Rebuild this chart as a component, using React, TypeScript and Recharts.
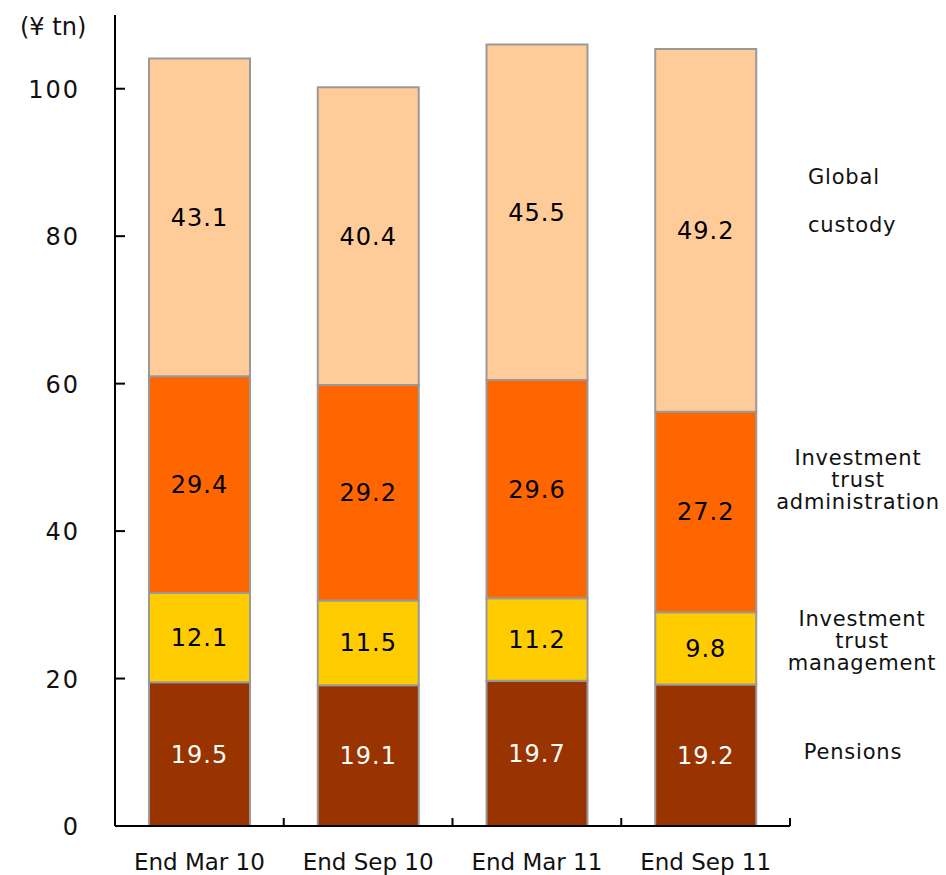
import React from 'react';
import { BarChart, Bar, XAxis, YAxis, LabelList } from 'recharts';

const periods = ['End Mar 10', 'End Sep 10', 'End Mar 11', 'End Sep 11'];
const pensions = [19.5, 19.1, 19.7, 19.2];
const trustManagement = [12.1, 11.5, 11.2, 9.8];
const trustAdministration = [29.4, 29.2, 29.6, 27.2];
const globalCustody = [43.1, 40.4, 45.5, 49.2];
const yTicks = [0, 20, 40, 60, 80, 100];

const W = 946;
const H = 875;
const MARGIN = { top: 15, right: 156, bottom: 0, left: 0 };
const YAXIS_W = 115;
const XAXIS_H = 49;
const AXIS_X = MARGIN.left + YAXIS_W;
const FONT = '"DejaVu Sans", sans-serif';

const data = periods.map((p, i) => ({
  name: p,
  pensions: pensions[i],
  management: trustManagement[i],
  administration: trustAdministration[i],
  custody: globalCustody[i],
}));

const YTick = (props: any) => {
  const { y, payload } = props;
  return (
    <g>
      <line x1={AXIS_X} x2={AXIS_X + 10} y1={y} y2={y} stroke="#000" strokeWidth={2} />
      <text x={AXIS_X - 35} y={y + 1} textAnchor="end" dominantBaseline="central" fontSize={24} letterSpacing={2} fontFamily={FONT} fill="#111">
        {payload.value}
      </text>
    </g>
  );
};

const XTick = (props: any) => {
  const { x, y, payload } = props;
  const half = payload.offset || 84.4;
  return (
    <g>
      <line x1={x + half} x2={x + half} y1={y} y2={y - 8} stroke="#000" strokeWidth={2} />
      <text x={x} y={y + 36} textAnchor="middle" dominantBaseline="central" fontSize={23} fontFamily={FONT} fill="#111">
        {payload.value}
      </text>
    </g>
  );
};

const labelStyle = (fill: string) => ({ fontSize: 24, fontFamily: FONT, fill, letterSpacing: 1 });

// series names drawn on the right
const sideLabels = [
  { lines: ['Global'], x: 808, y: 177, anchor: 'start' },
  { lines: ['custody'], x: 808, y: 225, anchor: 'start' },
  { lines: ['Investment', 'trust', 'administration'], x: 858, y: 458, anchor: 'middle' },
  { lines: ['Investment', 'trust', 'management'], x: 862, y: 619, anchor: 'middle' },
  { lines: ['Pensions'], x: 853, y: 752, anchor: 'middle' },
];

export default function App() {
  return (
    <div style={{ position: 'absolute', left: 0, top: 0, width: W, height: H, background: '#fff' }}>
      <BarChart width={W} height={H} data={data} margin={MARGIN} barSize={101}>
        <XAxis
          dataKey="name"
          height={XAXIS_H}
          axisLine={{ stroke: '#000', strokeWidth: 2 }}
          tickLine={false}
          tickSize={0}
          tickMargin={0}
          tick={<XTick />}
          interval={0}
        />
        <YAxis
          width={YAXIS_W}
          domain={[0, 110]}
          ticks={yTicks}
          axisLine={{ stroke: '#000', strokeWidth: 2 }}
          tickLine={false}
          tick={<YTick />}
          allowDataOverflow
        />
        <Bar dataKey="pensions" stackId="a" fill="#993300" stroke="#999999" strokeWidth={2} isAnimationActive={false}>
          <LabelList dataKey="pensions" position="center" style={labelStyle('#fff')} />
        </Bar>
        <Bar dataKey="management" stackId="a" fill="#FFCC00" stroke="#999999" strokeWidth={2} isAnimationActive={false}>
          <LabelList dataKey="management" position="center" style={labelStyle('#000')} />
        </Bar>
        <Bar dataKey="administration" stackId="a" fill="#FF6600" stroke="#999999" strokeWidth={2} isAnimationActive={false}>
          <LabelList dataKey="administration" position="center" style={labelStyle('#000')} />
        </Bar>
        <Bar dataKey="custody" stackId="a" fill="#FFCC99" stroke="#999999" strokeWidth={2} isAnimationActive={false}>
          <LabelList dataKey="custody" position="center" style={labelStyle('#000')} />
        </Bar>
      </BarChart>
      <svg width={W} height={H} style={{ position: 'absolute', left: 0, top: 0, pointerEvents: 'none' }}>
        <text x={20} y={27} dominantBaseline="central" fontSize={24} fontFamily={FONT} fill="#111">(¥ tn)</text>
        {sideLabels.map((l, i) =>
          l.lines.map((t, j) => (
            <text
              key={`${i}-${j}`}
              x={l.x}
              y={l.y + j * 22}
              textAnchor={l.anchor as any}
              dominantBaseline="central"
              fontSize={21}
              letterSpacing={0.8}
              fontFamily={FONT}
              fill="#111"
            >
              {t}
            </text>
          ))
        )}
      </svg>
    </div>
  );
}
